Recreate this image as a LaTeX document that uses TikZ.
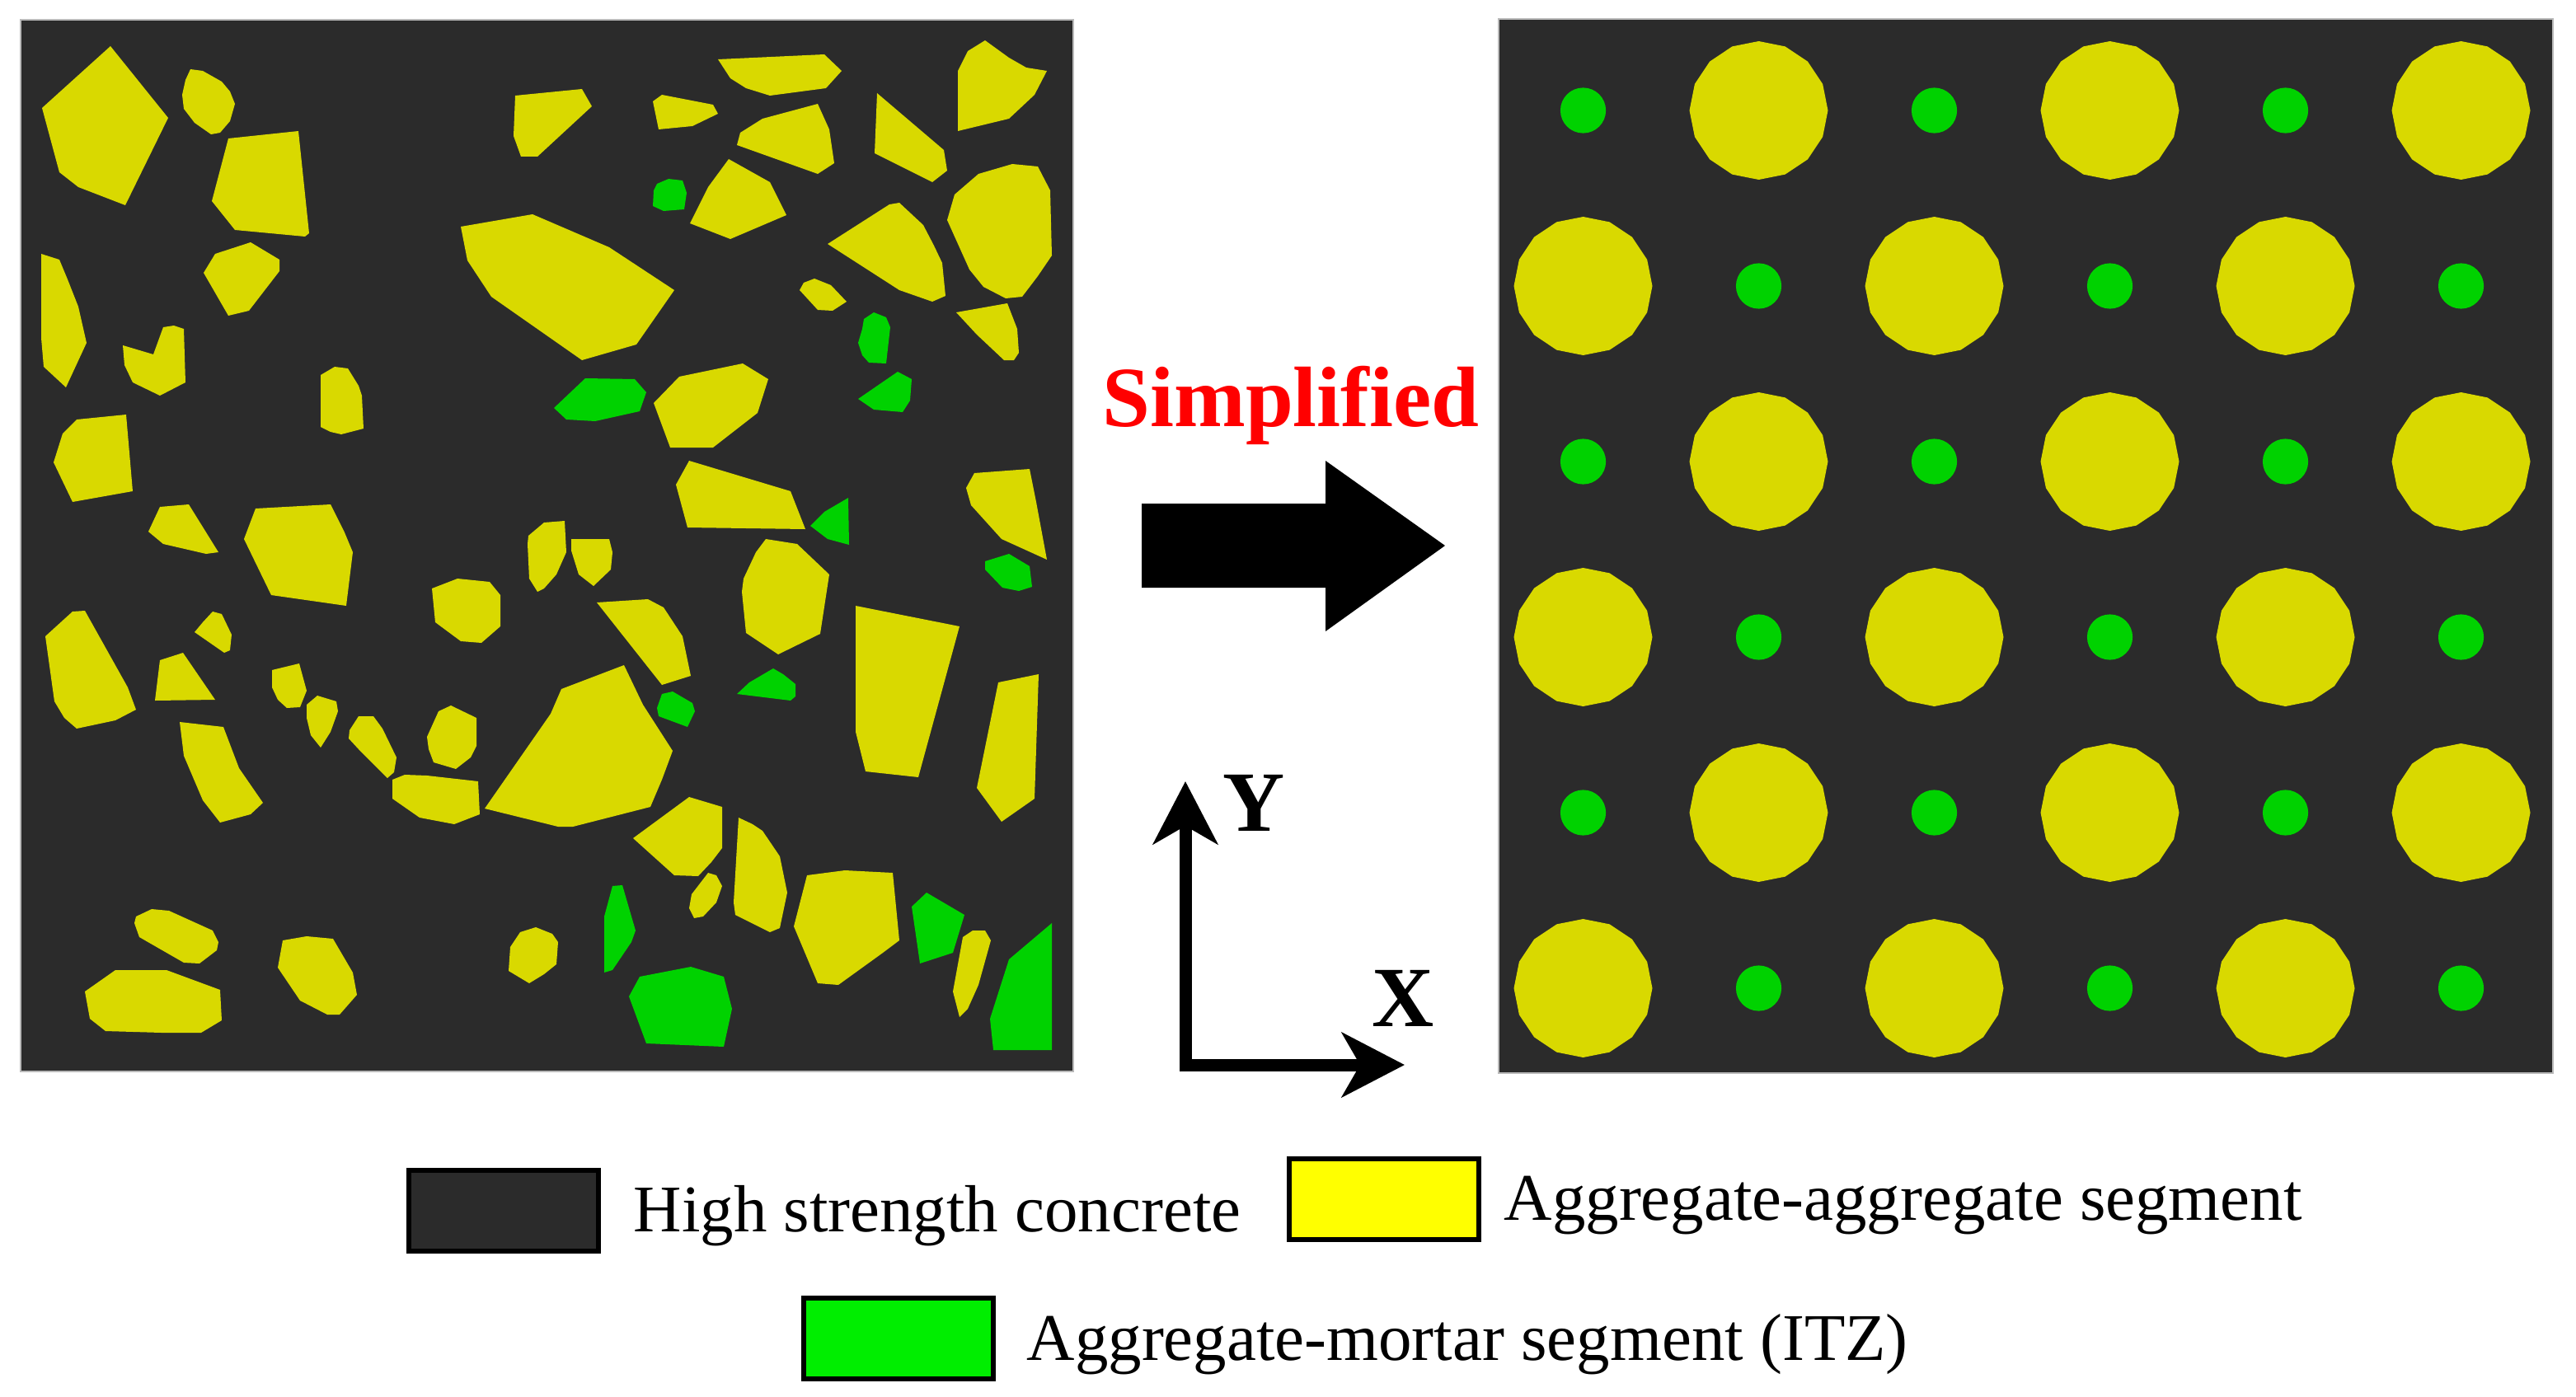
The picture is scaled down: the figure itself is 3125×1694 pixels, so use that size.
\documentclass[tikz,border=0pt]{standalone}
\usepackage{fontspec}
\setmainfont{Liberation Serif}
\usetikzlibrary{arrows.meta}
\definecolor{matrixC}{RGB}{43,43,43}
\definecolor{aggY}{RGB}{217,217,0}
\definecolor{itzG}{RGB}{0,210,0}
\definecolor{legY}{RGB}{255,255,0}
\definecolor{legG}{RGB}{0,238,0}
\definecolor{redT}{RGB}{255,0,0}
\tikzset{
  panel/.style={fill=matrixC, draw=gray!55, line width=0.02cm},
  agg/.style={fill=aggY},
  itz/.style={fill=itzG},
  legbox/.style={draw=black, line width=0.06cm, minimum width=2.3cm, minimum height=0.98cm, inner sep=0pt},
  legtext/.style={anchor=base west, inner sep=0pt, font=\fontsize{23}{27}\selectfont},
  bigtext/.style={anchor=base, inner sep=0pt, font=\fontsize{29.6}{34}\selectfont\bfseries},
  axisline/.style={line width=0.15cm, line join=miter, {Stealth[length=0.76cm,width=0.78cm,inset=0.22cm]}-{Stealth[length=0.76cm,width=0.78cm,inset=0.22cm]}}
}
\begin{document}
\begin{tikzpicture}[x=0.01cm, y=-0.01cm]
\useasboundingbox (0,0) rectangle (3125,1694);
\fill[white] (0,0) rectangle (3125,1694);
% ---------------- left panel ----------------
\path[panel] (25,24) rectangle (1302,1300);
\fill[agg] (134,56)--(204,143)--(152,249)--(95,227)--(72,209)--(51,131)--cycle;
\fill[agg] (231,84)--(246,86)--(269,99)--(279,111)--(285,126)--(279,147)--(267,161)--(256,163)--(236,149)--(223,132)--(221,115)--(225,97)--cycle;
\fill[agg] (277,168)--(362,159)--(375,283)--(370,287)--(285,279)--(257,244)--cycle;
\fill[agg] (261,308)--(304,294)--(339,315)--(339,329)--(302,377)--(277,383)--(247,331)--cycle;
\fill[agg] (50,308)--(72,315)--(82,339)--(95,372)--(105,416)--(80,470)--(53,445)--(50,410)--cycle;
\fill[agg] (149,419)--(186,430)--(198,397)--(211,395)--(223,399)--(225,464)--(194,480)--(161,464)--(151,443)--cycle;
\fill[agg] (389,455)--(406,445)--(422,447)--(435,468)--(439,480)--(441,520)--(414,527)--(401,524)--(389,518)--cycle;
\fill[agg] (93,509)--(153,503)--(161,596)--(88,609)--(65,561)--(76,526)--cycle;
\fill[agg] (194,615)--(229,612)--(265,670)--(250,672)--(198,660)--(180,645)--cycle;
\fill[agg] (310,617)--(401,612)--(418,646)--(428,670)--(420,735)--(329,722)--(296,654)--cycle;
\fill[agg] (625,116)--(706,108)--(718,129)--(652,190)--(632,190)--(623,165)--cycle;
\fill[agg] (559,275)--(646,260)--(739,300)--(818,352)--(772,418)--(706,437)--(596,360)--(567,316)--cycle;
\fill[agg] (871,72)--(1000,66)--(1021,86)--(1002,107)--(934,116)--(905,107)--(886,95)--cycle;
\fill[agg] (792,123)--(803,115)--(865,127)--(871,138)--(840,153)--(799,157)--cycle;
\fill[agg] (898,161)--(925,144)--(992,126)--(1006,157)--(1012,198)--(992,211)--(894,176)--cycle;
\fill[agg] (1064,113)--(1145,182)--(1149,207)--(1131,221)--(1061,186)--cycle;
\fill[agg] (1195,49)--(1224,70)--(1245,82)--(1270,86)--(1255,115)--(1224,144)--(1162,159)--(1162,86)--(1174,62)--cycle;
\fill[agg] (884,193)--(934,221)--(954,261)--(886,290)--(837,271)--(859,227)--cycle;
\fill[agg] (1004,296)--(1079,248)--(1091,246)--(1120,273)--(1133,298)--(1143,319)--(1147,359)--(1131,366)--(1091,352)--cycle;
\fill[agg] (1158,236)--(1187,211)--(1228,199)--(1259,202)--(1274,231)--(1276,310)--(1259,335)--(1240,360)--(1220,362)--(1193,348)--(1176,327)--(1149,267)--cycle;
\fill[agg] (975,343)--(988,338)--(1008,346)--(1027,366)--(1010,377)--(992,376)--(970,352)--cycle;
\fill[agg] (1160,379)--(1222,368)--(1234,399)--(1236,428)--(1230,437)--(1218,437)--(1185,406)--cycle;
\fill[agg] (793,489)--(824,457)--(901,441)--(932,460)--(919,501)--(865,543)--(813,543)--cycle;
\fill[agg] (820,588)--(836,559)--(959,596)--(977,642)--(834,640)--cycle;
\fill[agg] (1182,574)--(1249,569)--(1257,609)--(1270,679)--(1215,654)--(1178,613)--(1172,592)--cycle;
\fill[agg] (641,650)--(660,634)--(685,632)--(687,670)--(675,697)--(660,714)--(652,718)--(642,702)--(640,660)--cycle;
\fill[agg] (693,654)--(739,654)--(743,670)--(741,691)--(720,711)--(702,697)--(693,668)--cycle;
\fill[agg] (724,731)--(786,727)--(805,737)--(828,772)--(838,820)--(803,831)--cycle;
\fill[agg] (588,981)--(668,866)--(681,836)--(757,807)--(780,855)--(816,911)--(803,946)--(789,979)--(695,1003)--(677,1003)--cycle;
\fill[agg] (929,654)--(967,660)--(1006,697)--(995,769)--(944,794)--(905,768)--(900,718)--(902,702)--(917,670)--cycle;
\fill[agg] (1038,735)--(1164,760)--(1114,943)--(1050,936)--(1038,888)--cycle;
\fill[agg] (1211,828)--(1260,818)--(1255,969)--(1215,997)--(1185,956)--cycle;
\fill[agg] (768,1017)--(836,967)--(876,979)--(876,1029)--(863,1046)--(847,1063)--(818,1062)--cycle;
\fill[agg] (839,1085)--(859,1059)--(869,1062)--(876,1075)--(869,1095)--(853,1112)--(842,1114)--(836,1102)--cycle;
\fill[agg] (896,992)--(913,1000)--(925,1008)--(946,1039)--(955,1083)--(946,1126)--(934,1131)--(892,1110)--(890,1095)--cycle;
\fill[agg] (979,1062)--(1025,1056)--(1083,1059)--(1091,1141)--(1071,1156)--(1017,1195)--(992,1193)--(963,1124)--cycle;
\fill[agg] (1168,1137)--(1180,1129)--(1195,1129)--(1202,1141)--(1187,1195)--(1174,1224)--(1164,1234)--(1156,1203)--cycle;
\fill[agg] (619,1149)--(631,1131)--(650,1125)--(670,1133)--(677,1143)--(675,1170)--(660,1182)--(642,1193)--(617,1178)--cycle;
\fill[agg] (55,772)--(88,742)--(103,741)--(155,834)--(165,861)--(140,874)--(93,884)--(78,871)--(66,851)--cycle;
\fill[agg] (236,767)--(246,755)--(258,742)--(269,745)--(281,770)--(279,789)--(272,792)--cycle;
\fill[agg] (194,801)--(222,792)--(261,849)--(188,850)--cycle;
\fill[agg] (218,876)--(271,882)--(290,932)--(319,974)--(304,988)--(267,998)--(246,971)--(223,917)--cycle;
\fill[agg] (330,813)--(363,805)--(372,838)--(364,858)--(348,859)--(337,849)--(330,834)--cycle;
\fill[agg] (372,855)--(385,844)--(408,851)--(410,863)--(401,888)--(389,907)--(377,892)--(372,871)--cycle;
\fill[agg] (424,886)--(435,869)--(453,869)--(464,884)--(481,919)--(478,937)--(470,944)--(435,909)--(423,896)--cycle;
\fill[agg] (524,714)--(555,702)--(594,706)--(607,722)--(607,760)--(584,780)--(559,778)--(528,755)--cycle;
\fill[agg] (518,894)--(532,863)--(547,856)--(578,871)--(578,905)--(571,919)--(553,933)--(526,925)--(520,909)--cycle;
\fill[agg] (476,946)--(491,940)--(518,941)--(580,948)--(582,988)--(551,1000)--(509,992)--(476,969)--cycle;
\fill[agg] (165,1112)--(184,1103)--(205,1105)--(258,1129)--(265,1143)--(263,1153)--(242,1169)--(223,1168)--(169,1137)--(163,1120)--cycle;
\fill[agg] (103,1203)--(140,1177)--(202,1177)--(267,1201)--(269,1238)--(244,1253)--(196,1253)--(128,1251)--(109,1236)--cycle;
\fill[agg] (343,1141)--(372,1136)--(404,1139)--(428,1180)--(433,1207)--(412,1231)--(397,1231)--(364,1214)--(337,1174)--cycle;
% green ITZ pieces
\fill[itz] (797,223)--(811,217)--(828,219)--(833,234)--(830,254)--(805,256)--(792,250)--(793,231)--cycle;
\fill[itz] (1048,387)--(1060,379)--(1075,385)--(1080,397)--(1075,441)--(1054,440)--(1046,431)--(1041,416)--(1046,399)--cycle;
\fill[itz] (672,495)--(710,459)--(770,460)--(784,476)--(776,499)--(722,511)--(687,509)--cycle;
\fill[itz] (1041,484)--(1089,451)--(1106,460)--(1104,486)--(1095,500)--(1060,497)--cycle;
\fill[itz] (983,638)--(1000,621)--(1029,604)--(1030,661)--(1004,654)--cycle;
\fill[itz] (797,859)--(803,842)--(816,839)--(840,853)--(843,863)--(834,882)--(799,869)--cycle;
\fill[itz] (894,842)--(909,828)--(938,811)--(950,818)--(965,830)--(965,845)--(959,850)--cycle;
\fill[itz] (1195,681)--(1224,672)--(1249,687)--(1252,712)--(1236,717)--(1216,713)--(1195,691)--cycle;
\fill[itz] (1106,1100)--(1124,1083)--(1170,1110)--(1156,1156)--(1116,1169)--cycle;
\fill[itz] (1224,1164)--(1276,1120)--(1276,1274)--(1205,1274)--(1201,1236)--cycle;
\fill[itz] (763,1209)--(776,1185)--(838,1173)--(878,1185)--(888,1224)--(878,1270)--(784,1266)--cycle;
\fill[itz] (733,1112)--(743,1075)--(755,1074)--(771,1129)--(766,1143)--(743,1177)--(733,1180)--cycle;
% ---------------- right panel ----------------
\path[panel] (1818,23) rectangle (3097,1302);
\foreach \r in {0,...,5}{
  \foreach \c in {0,...,5}{
    \pgfmathsetmacro\cx{1920.5+213*\c}
    \pgfmathsetmacro\cy{134+213*\r}
    \pgfmathtruncatemacro\pp{mod(\r+\c,2)}
    \ifnum\pp=1
      \fill[agg] plot[samples=17, domain=90:450, variable=\t] ({\cx+84*cos(\t)},{\cy+84*sin(\t)}) -- cycle;
    \else
      \fill[itz] (\cx,\cy) circle[radius=27.6];
    \fi
  }
}
% ---------------- arrow and axes ----------------
\node[bigtext, text=redT] (simp) at (1566,517) {Simplified};
\fill[black] (1385,611)--(1608,611)--(1608,559)--(1753,662)--(1608,766)--(1608,713)--(1385,713)--cycle;
\coordinate (orig) at (1438,1292);
\coordinate (ytip) at (1438,948);
\coordinate (xtip) at (1704,1292);
\draw[axisline] (ytip) -- (orig) -- (xtip);
\node[bigtext] (ylab) at (1521,1008) {Y};
\node[bigtext] (xlab) at (1702,1245) {X};
% ---------------- legend ----------------
\node[legbox, fill=matrixC] (k1) at (611,1469) {};
\node[legtext] (t1) at (768,1494) {High strength concrete};
\node[legbox, fill=legY] (k2) at (1679,1455) {};
\node[legtext] (t2) at (1824,1480) {Aggregate-aggregate segment};
\node[legbox, fill=legG] (k3) at (1090,1624) {};
\node[legtext] (t3) at (1245,1650) {Aggregate-mortar segment (ITZ)};
\end{tikzpicture}
\end{document}
